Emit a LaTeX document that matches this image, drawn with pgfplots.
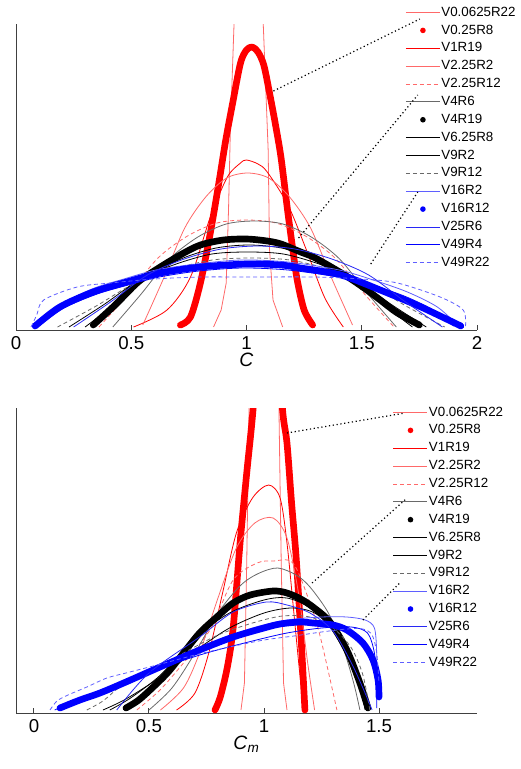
\documentclass[border=0pt]{standalone}
\usepackage{fontspec}
\setmainfont{Liberation Sans}
\usepackage{pgfplots}
\pgfplotsset{compat=1.18}
\definecolor{lred}{RGB}{255,105,105}
\definecolor{lgray}{RGB}{105,105,105}
\definecolor{lblue}{RGB}{95,95,255}
\definecolor{mblue}{RGB}{40,40,245}
\pgfplotsset{
  myaxis/.style={
    scale only axis, width=345.75pt,
    axis x line=bottom, axis y line=left,
    x axis line style={-}, y axis line style={-},
    axis line style={black!75, line width=0.7pt},
    tick align=inside, ytick=\empty, major tick length=4pt,
    xtick style={black!75, line width=0.7pt},
    tick label style={font=\fontsize{14}{16}\selectfont},
    xticklabel style={yshift=-1.2pt},
    xlabel style={font=\fontsize{14.5}{16}\selectfont, yshift=4pt},
    legend cell align=left,
    legend style={draw=none, fill=none, inner sep=0pt, outer sep=0pt,
      font=\fontsize{10}{12}\selectfont, anchor=north west, row sep=1.2pt,
      nodes={inner sep=0.8pt, text height=8pt, text depth=2.6pt}},
  },
  ln/.style={legend image code/.code={\draw[##1] (0pt,0pt) -- (25.5pt,0pt);}},
  thn/.style={line width=0.6pt, smooth, tension=0.5, ln},
  thk/.style={line width=5pt, line cap=round, line join=round, smooth, tension=0.5,
    legend image code/.code={\path[draw=none, fill=none] (0pt,0pt) -- (25.5pt,0pt); \fill[##1, draw=none] (12.75pt,0pt) circle (2.1pt);}},
  dsh/.style={dash pattern=on 3pt off 2.2pt},
}
\begin{document}
\begin{tikzpicture}
\path[use as bounding box] (0,0) rectangle (390.75pt,-576.75pt);
% ---------------- top panel ----------------
\begin{axis}[myaxis, at={(12pt,-247.5pt)}, anchor=south west, height=229.5pt,
  xmin=0, xmax=2, ymin=0, ymax=306,
  xtick={0,0.5,1,1.5,2}, xticklabels={0,0.5,1,1.5,2},
  xlabel={\textit{C}},
  legend style={at={(0.845,1.064)}},
  legend entries={V0.0625R22,V0.25R8,V1R19,V2.25R2,V2.25R12,V4R6,V4R19,V6.25R8,V9R2,V9R12,V16R2,V16R12,V25R6,V49R4,V49R22}]
\addplot[lred, line width=0.6pt, ln] coordinates {(0.857,3) (0.89,20) (0.912,47) (0.922,120) (0.93,200) (0.945,300) (0.97,450) (1.0,530) (1.035,460) (1.072,310) (1.094,180) (1.10,80) (1.115,30) (1.157,3)};
\addplot[red, thk] coordinates {(0.713,5) (0.757,13) (0.80,47) (0.843,97) (0.88,147) (0.91,190) (0.94,227) (0.974,267) (1.0,280) (1.025,283) (1.05,278) (1.075,265) (1.10,237) (1.126,205) (1.15,172) (1.178,120) (1.20,82) (1.22,50) (1.25,20) (1.287,5)};
\addplot[red, thn] coordinates {(0.51,3) (0.655,20) (0.757,53) (0.843,113) (0.917,153) (0.974,167) (1.0,170) (1.05,166) (1.09,158) (1.18,125) (1.26,80) (1.34,32) (1.42,3)};
\addplot[lred, thn] coordinates {(0.55,5) (0.641,52) (0.732,102) (0.823,133) (0.914,152) (1.005,157) (1.096,152) (1.187,133) (1.278,102) (1.369,52) (1.46,5)};
\addplot[lred, thn, dsh] coordinates {(0.36,3) (0.488,36) (0.616,72) (0.744,94) (0.872,107) (1.0,110) (1.128,107) (1.256,94) (1.384,72) (1.512,36) (1.64,3)};
\addplot[lgray, thn] coordinates {(0.42,3) (0.543,36) (0.666,71) (0.789,93) (0.912,106) (1.035,109) (1.158,106) (1.281,93) (1.404,71) (1.527,36) (1.65,3)};
\addplot[black, thk] coordinates {(0.335,5) (0.43,25) (0.53,48) (0.626,63) (0.72,76) (0.80,85) (0.90,90) (1.0,91) (1.09,89) (1.15,86) (1.235,78) (1.29,73) (1.36,64) (1.44,53) (1.51,42) (1.58,30) (1.655,17) (1.75,5)};
\addplot[black, thn] coordinates {(0.30,3) (0.442,28) (0.584,55) (0.726,72) (0.868,82) (1.01,85) (1.152,82) (1.294,72) (1.436,55) (1.578,28) (1.72,3)};
\addplot[black, thn] coordinates {(0.23,3) (0.385,26) (0.54,51) (0.695,66) (0.85,76) (1.005,78) (1.16,76) (1.315,66) (1.47,51) (1.625,26) (1.78,3)};
\addplot[lgray, thn, dsh] coordinates {(0.18,3) (0.348,24) (0.516,47) (0.684,61) (0.852,70) (1.02,72) (1.188,70) (1.356,61) (1.524,47) (1.692,24) (1.86,3)};
\addplot[lblue, thn] coordinates {(0.07,4) (0.181,24) (0.329,41) (0.468,51) (0.607,60) (0.782,66) (0.977,70) (1.18,68) (1.402,60) (1.55,50) (1.698,38) (1.828,23) (1.92,4)};
\addplot[blue, thk] coordinates {(0.083,4) (0.19,23) (0.335,38) (0.48,48) (0.626,57) (0.8,63) (1.0,66) (1.148,65) (1.235,62) (1.41,55) (1.58,40) (1.757,23) (1.93,4)};
\addplot[mblue, thn] coordinates {(0.25,3) (0.41,28) (0.57,55) (0.73,71) (0.89,81) (1.05,84) (1.21,81) (1.37,71) (1.53,55) (1.69,28) (1.85,3)};
\addplot[blue, thn] coordinates {(0.10,4) (0.208,22) (0.352,36) (0.487,45) (0.622,53) (0.793,59) (0.982,62) (1.18,60) (1.396,53) (1.54,45) (1.684,34) (1.81,20) (1.90,4)};
\addplot[lblue, thn, dsh] coordinates {(0.065,3) (0.09,15) (0.12,30) (0.265,43) (0.41,47) (0.6,51) (0.8,53) (1.0,53) (1.29,53) (1.5,51) (1.655,47) (1.84,33) (1.94,20) (1.95,3)};
\coordinate (ta1) at (axis cs:1.117,239);
\coordinate (tb1) at (axis cs:1.752,311);
\coordinate (ta2) at (axis cs:1.226,92);
\coordinate (tb2) at (axis cs:1.743,235);
\coordinate (ta3) at (axis cs:1.539,66);
\coordinate (tb3) at (axis cs:1.743,138);
\end{axis}
\draw[line width=0.9pt, dash pattern=on 0.9pt off 2pt] (ta1) -- (tb1);
\draw[line width=0.9pt, dash pattern=on 0.9pt off 2pt] (ta2) -- (tb2);
\draw[line width=0.9pt, dash pattern=on 0.9pt off 2pt] (ta3) -- (tb3);
% ---------------- bottom panel ----------------
\begin{axis}[myaxis, at={(12pt,-534.75pt)}, anchor=south west, height=228.75pt,
  xmin=-0.078, xmax=1.926, ymin=0, ymax=305,
  xtick={0,0.5,1,1.5}, xticklabels={0,0.5,1,1.5},
  xlabel={\textit{C}\textsubscript{\textit{m}}},
  legend style={at={(0.818,1.012)}},
  legend entries={V0.0625R22,V0.25R8,V1R19,V2.25R2,V2.25R12,V4R6,V4R19,V6.25R8,V9R2,V9R12,V16R2,V16R12,V25R6,V49R4,V49R22}]
\addplot[lred, line width=0.6pt, ln] coordinates {(0.90,3) (0.915,30) (0.925,150) (0.935,305) (0.96,450) (1.0,550) (1.04,450) (1.065,305) (1.075,150) (1.085,30) (1.10,3)};
\addplot[red, thk] coordinates {(0.787,3) (0.81,16) (0.84,45) (0.866,85) (0.896,170) (0.925,240) (0.953,305) (0.99,420) (1.02,450) (1.05,410) (1.08,305) (1.10,270) (1.12,210) (1.14,155) (1.16,80) (1.178,3)};
\addplot[red, thn] coordinates {(0.62,3) (0.70,20) (0.76,60) (0.82,120) (0.88,180) (0.95,215) (1.02,228) (1.07,215) (1.10,170) (1.13,100) (1.16,30) (1.18,3)};
\addplot[lred, thn] coordinates {(0.55,3) (0.65,25) (0.72,60) (0.80,115) (0.88,165) (0.96,190) (1.04,195) (1.10,175) (1.15,120) (1.19,50) (1.22,3)};
\addplot[lred, thn, dsh] coordinates {(0.447,3) (0.548,23) (0.65,50) (0.765,83) (0.866,133) (0.97,150) (1.04,152) (1.126,150) (1.20,110) (1.245,76) (1.317,3)};
\addplot[lgray, thn] coordinates {(0.50,3) (0.60,25) (0.70,60) (0.80,100) (0.90,128) (0.98,140) (1.06,145) (1.14,138) (1.20,126) (1.28,100) (1.343,66) (1.39,30) (1.417,3)};
\addplot[black, thk] coordinates {(0.40,5) (0.45,12) (0.50,22) (0.58,40) (0.65,60) (0.72,80) (0.795,96) (0.866,110) (0.94,118) (1.04,122) (1.10,120) (1.16,114) (1.213,106) (1.287,91) (1.36,63) (1.417,30) (1.452,5)};
\addplot[black, thn] coordinates {(0.33,3) (0.42,15) (0.55,38) (0.70,75) (0.85,100) (1.0,113) (1.10,115) (1.20,105) (1.30,82) (1.37,52) (1.42,22) (1.44,3)};
\addplot[black, thn] coordinates {(0.30,3) (0.40,14) (0.55,36) (0.70,62) (0.85,85) (1.0,100) (1.12,105) (1.22,100) (1.32,80) (1.39,52) (1.43,25) (1.45,3)};
\addplot[lgray, thn, dsh] coordinates {(0.23,3) (0.30,12) (0.374,26) (0.50,42) (0.65,60) (0.80,78) (0.95,90) (1.08,97) (1.20,96) (1.30,85) (1.38,65) (1.43,38) (1.46,3)};
\addplot[lblue, thn] coordinates {(0.10,3) (0.20,12) (0.35,28) (0.55,48) (0.75,68) (0.95,85) (1.10,93) (1.25,96) (1.36,96) (1.44,93) (1.48,85) (1.49,60) (1.49,20)};
\addplot[blue, thk] coordinates {(0.113,5) (0.20,13) (0.287,20) (0.40,31) (0.548,46) (0.72,63) (0.866,76) (1.0,85) (1.07,89) (1.157,91) (1.213,90) (1.30,88) (1.36,83) (1.43,70) (1.474,53) (1.496,33) (1.50,16)};
\addplot[mblue, thn] coordinates {(0.36,3) (0.50,40) (0.72,76) (0.866,101) (1.01,111) (1.10,108) (1.20,100) (1.30,82) (1.38,50) (1.43,25) (1.47,3)};
\addplot[blue, thn] coordinates {(0.09,3) (0.2,15) (0.35,28) (0.55,45) (0.75,60) (0.95,72) (1.1,80) (1.25,85) (1.38,86) (1.45,80) (1.48,60) (1.49,30) (1.49,5)};
\addplot[lblue, thn, dsh] coordinates {(0.07,3) (0.10,12) (0.148,18) (0.23,26) (0.317,35) (0.40,40) (0.535,48) (0.70,58) (0.85,66) (1.0,73) (1.13,77) (1.25,81) (1.36,84) (1.43,84) (1.47,78) (1.49,60) (1.50,30)};
\coordinate (ba1) at (axis cs:1.10,280);
\coordinate (bb1) at (axis cs:1.613,300);
\coordinate (ba2) at (axis cs:1.209,130);
\coordinate (bb2) at (axis cs:1.622,215);
\coordinate (ba3) at (axis cs:1.43,93);
\coordinate (bb3) at (axis cs:1.59,130);
\end{axis}
\draw[line width=0.9pt, dash pattern=on 0.9pt off 2pt] (ba1) -- (bb1);
\draw[line width=0.9pt, dash pattern=on 0.9pt off 2pt] (ba2) -- (bb2);
\draw[line width=0.9pt, dash pattern=on 0.9pt off 2pt] (ba3) -- (bb3);
\end{tikzpicture}
\end{document}
